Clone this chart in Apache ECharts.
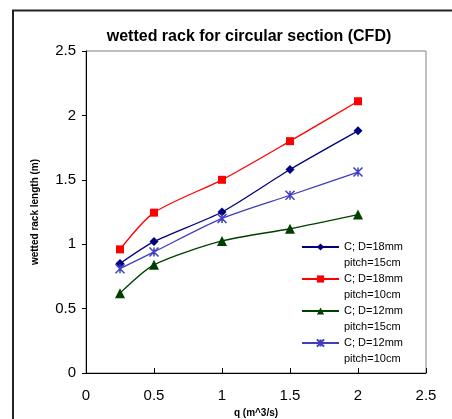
<!DOCTYPE html>
<html><head><meta charset="utf-8">
<script src="https://cdn.jsdelivr.net/npm/echarts@6/dist/echarts.min.js"></script>
<style>html,body{margin:0;padding:0;background:#fff}#c{width:452px;height:419px}</style>
</head><body><div id="c"></div>
<script>
const xValues = [0.25, 0.5, 1, 1.5, 2];
const names = ['C; D=18mm pitch=15cm', 'C; D=18mm pitch=10cm', 'C; D=12mm pitch=15cm', 'C; D=12mm pitch=10cm'];
const d18p15 = [0.85, 1.02, 1.25, 1.58, 1.88];
const d18p10 = [0.96, 1.245, 1.5, 1.80, 2.11];
const d12p15 = [0.62, 0.84, 1.025, 1.12, 1.23];
const d12p10 = [0.81, 0.94, 1.20, 1.38, 1.56];
const xTicks = [0, 0.5, 1, 1.5, 2, 2.5];
const yTicks = [0, 0.5, 1, 1.5, 2, 2.5];

const colors = ['#000080', '#ff0000', '#003f00', '#3f3fbf'];
const symbols = ['diamond', 'rect', 'triangle', 'path://M0,0L10,10M10,0L0,10M5,0L5,10'];
const sizes = [9, 8, 10, 9];
const seriesData = [d18p15, d18p10, d12p15, d12p10];
const font = 'Arial, Liberation Sans';

const chart = echarts.init(document.getElementById('c'));
const series = seriesData.map((vals, i) => ({
  name: names[i],
  type: 'line',
  smooth: 0.25,
  data: vals.map((v, j) => [xValues[j], v]),
  symbol: symbols[i],
  symbolSize: sizes[i],
  showAllSymbol: true,
  lineStyle: {color: colors[i], width: 1.3},
  itemStyle: i === 3 ? {color: colors[i], borderColor: colors[i], borderWidth: 1.5} : {color: colors[i], borderWidth: 0},
  emphasis: {disabled: true},
  animation: false
}));
const legends = names.map((n, i) => ({
  data: [n],
  orient: 'vertical',
  left: 301,
  top: 223 + i * 32,
  padding: 0,
  itemWidth: 37,
  itemHeight: 9,
  itemGap: 0,
  formatter: (s) => '\n' + s.replace(' pitch', '\npitch'),
  textStyle: {fontFamily: font, fontSize: 11, color: '#000', lineHeight: 16}
}));
chart.setOption({
  animation: false,
  title: {text: 'wetted rack for circular section (CFD)', left: 244, textAlign: 'center', top: 24,
    textStyle: {fontFamily: font, fontSize: 16, fontWeight: 'bold', color: '#000'}},
  legend: legends,
  grid: {left: 86, right: 26, top: 51, bottom: 46, show: true, borderColor: '#808080', borderWidth: 1,
    outerBoundsMode: 'none', containLabel: false},
  xAxis: {type: 'value', min: 0, max: 2.5, interval: 0.5,
    name: 'q (m^3/s)', nameLocation: 'middle', nameGap: 35,
    nameTextStyle: {fontFamily: font, fontSize: 10, fontWeight: 'bold', color: '#000'},
    axisLine: {show: true, lineStyle: {color: '#000', width: 1}},
    axisTick: {show: true, length: 5, inside: true, lineStyle: {color: '#000'}},
    axisLabel: {fontFamily: font, fontSize: 15, color: '#000', margin: 15,
      formatter: v => String(v)},
    splitLine: {show: false}},
  yAxis: {type: 'value', min: 0, max: 2.5, interval: 0.5,
    name: 'wetted rack length (m)', nameLocation: 'middle', nameGap: 46,
    nameTextStyle: {fontFamily: font, fontSize: 10, fontWeight: 'bold', color: '#000'},
    axisLine: {show: true, lineStyle: {color: '#000', width: 1}},
    axisTick: {show: true, length: 4, lineStyle: {color: '#000'}},
    axisLabel: {fontFamily: font, fontSize: 15, color: '#000', margin: 10,
      formatter: v => String(v)},
    splitLine: {show: false}},
  graphic: [
    {type: 'polyline', shape: {points: [[13, 419], [13, 10.5], [452, 10.5]]}, style: {stroke: '#222', lineWidth: 2, fill: null}, silent: true}
  ],
  series: series
});
</script></body></html>
